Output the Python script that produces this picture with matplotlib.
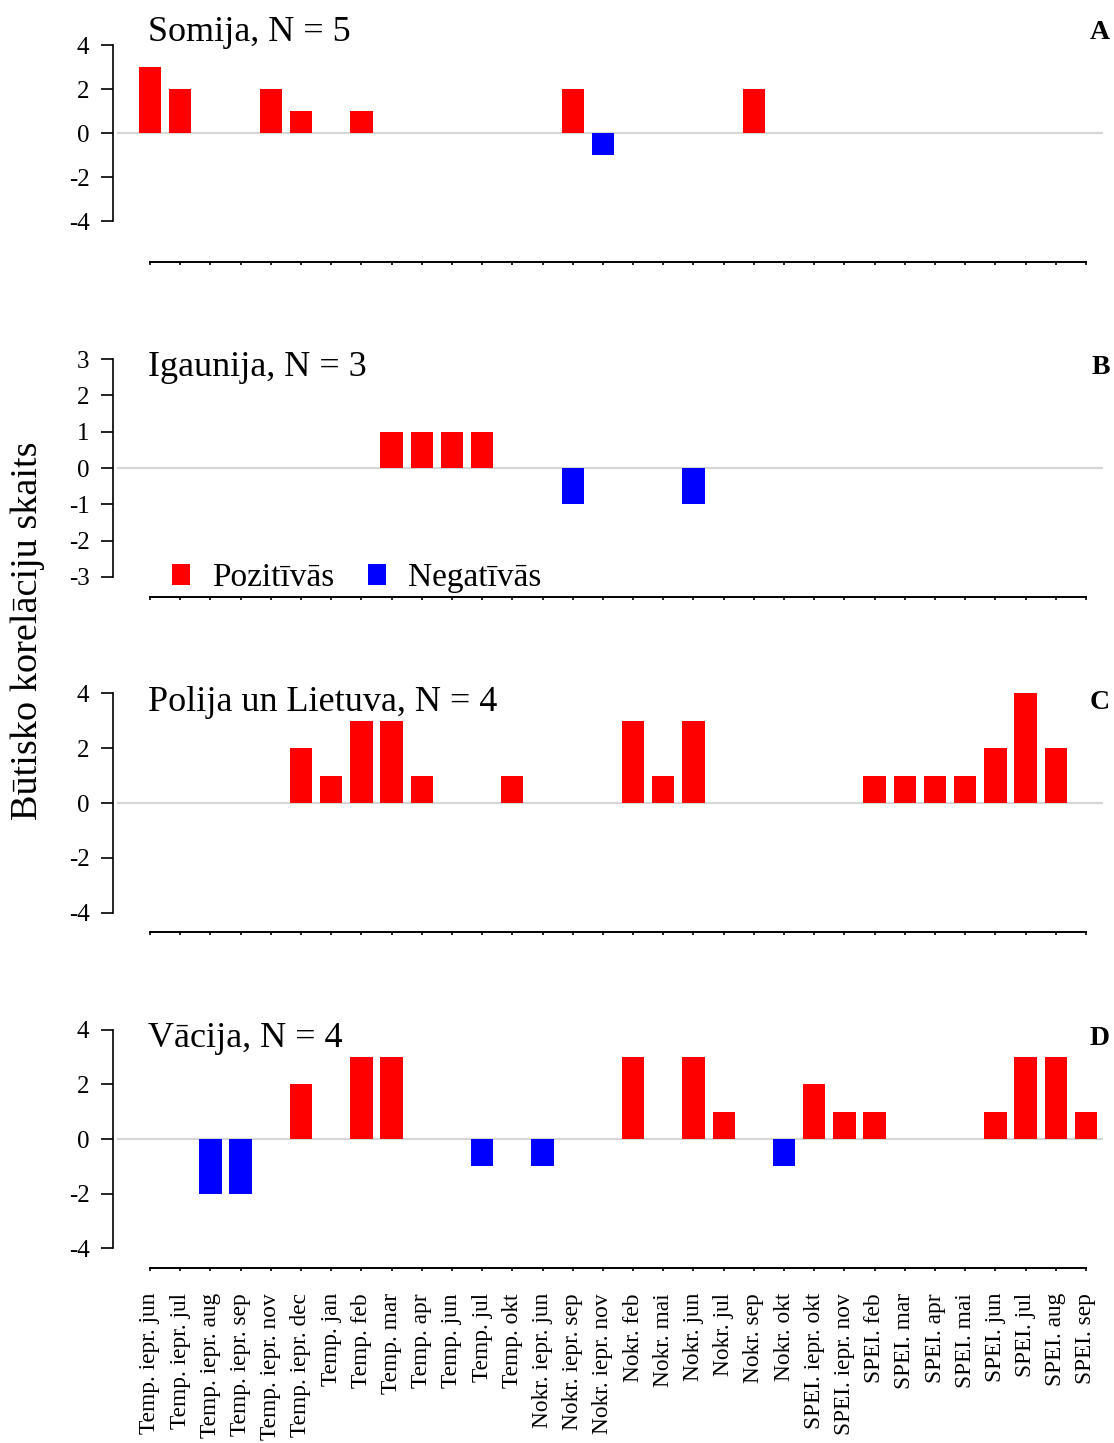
import matplotlib
matplotlib.use('Agg')
import matplotlib.pyplot as plt
from matplotlib.patches import Patch
import numpy as np

plt.rcParams['font.family'] = ['Liberation Serif', 'DejaVu Serif']
plt.rcParams['axes.unicode_minus'] = False

categories = [
    "Temp. iepr. jun", "Temp. iepr. jul", "Temp. iepr. aug", "Temp. iepr. sep",
    "Temp. iepr. nov", "Temp. iepr. dec", "Temp. jan", "Temp. feb", "Temp. mar",
    "Temp. apr", "Temp. jun", "Temp. jul", "Temp. okt", "Nokr. iepr. jun",
    "Nokr. iepr. sep", "Nokr. iepr. nov", "Nokr. feb", "Nokr. mai", "Nokr. jun",
    "Nokr. jul", "Nokr. sep", "Nokr. okt", "SPEI. iepr. okt", "SPEI. iepr. nov",
    "SPEI. feb", "SPEI. mar", "SPEI. apr", "SPEI. mai", "SPEI. jun", "SPEI. jul",
    "SPEI. aug", "SPEI. sep",
]

somija_pos = [3, 2, 0, 0, 2, 1, 0, 1, 0, 0, 0, 0, 0, 0, 2, 0, 0, 0, 0, 0, 2, 0, 0, 0, 0, 0, 0, 0, 0, 0, 0, 0]
somija_neg = [0, 0, 0, 0, 0, 0, 0, 0, 0, 0, 0, 0, 0, 0, 0, -1, 0, 0, 0, 0, 0, 0, 0, 0, 0, 0, 0, 0, 0, 0, 0, 0]
igaunija_pos = [0, 0, 0, 0, 0, 0, 0, 0, 1, 1, 1, 1, 0, 0, 0, 0, 0, 0, 0, 0, 0, 0, 0, 0, 0, 0, 0, 0, 0, 0, 0, 0]
igaunija_neg = [0, 0, 0, 0, 0, 0, 0, 0, 0, 0, 0, 0, 0, 0, -1, 0, 0, 0, -1, 0, 0, 0, 0, 0, 0, 0, 0, 0, 0, 0, 0, 0]
polija_pos = [0, 0, 0, 0, 0, 2, 1, 3, 3, 1, 0, 0, 1, 0, 0, 0, 3, 1, 3, 0, 0, 0, 0, 0, 1, 1, 1, 1, 2, 4, 2, 0]
polija_neg = [0, 0, 0, 0, 0, 0, 0, 0, 0, 0, 0, 0, 0, 0, 0, 0, 0, 0, 0, 0, 0, 0, 0, 0, 0, 0, 0, 0, 0, 0, 0, 0]
vacija_pos = [0, 0, 0, 0, 0, 2, 0, 3, 3, 0, 0, 0, 0, 0, 0, 0, 3, 0, 3, 1, 0, 0, 2, 1, 1, 0, 0, 0, 1, 3, 3, 1]
vacija_neg = [0, 0, -2, -2, 0, 0, 0, 0, 0, 0, 0, -1, 0, -1, 0, 0, 0, 0, 0, 0, 0, -1, 0, 0, 0, 0, 0, 0, 0, 0, 0, 0]

panel_titles = ["Somija, N = 5", "Igaunija, N = 3", "Polija un Lietuva, N = 4", "Vācija, N = 4"]
panel_letters = ["A", "B", "C", "D"]
pos_series = [somija_pos, igaunija_pos, polija_pos, vacija_pos]
neg_series = [somija_neg, igaunija_neg, polija_neg, vacija_neg]
y_limits = [4, 3, 4, 4]
y_steps = [2, 1, 2, 2]
legend_labels = ["Pozitīvās", "Negatīvās"]
y_label = "Būtisko korelāciju skaits"

POS_COLOR = "#ff0000"
NEG_COLOR = "#0000ff"

# layout in pixels
W, H = 1114, 1443
left_px, right_px = 113, 1103
x0_px, x_last_px = 150, 1086
n = len(categories)
dx = (x_last_px - x0_px) / (n - 1)
zero_px = [133, 468, 803, 1139]
unit_px = [22.0, 36.3, 27.4, 27.35]
axis_px = [262, 597, 932, 1268]

fig = plt.figure(figsize=(W / 100, H / 100), dpi=100)
x = np.arange(n)

for i in range(4):
    zp, up, ap = zero_px[i], unit_px[i], axis_px[i]
    ymax = y_limits[i]
    top_px = zp - ymax * up - 4
    ax = fig.add_axes([left_px / W, 1 - ap / H, (right_px - left_px) / W, (ap - top_px) / H])
    ax.set_xlim((left_px - x0_px) / dx, (right_px - x0_px) / dx)
    ax.set_ylim(-(ap - zp) / up, (zp - top_px) / up)
    ax.patch.set_alpha(0)

    ax.axhline(0, xmin=5 / (right_px - left_px), xmax=1, color="#d6d6d6", lw=1.6, zorder=0)
    ax.bar(x, pos_series[i], width=0.74, color=POS_COLOR, linewidth=0, zorder=2)
    ax.bar(x, neg_series[i], width=0.74, color=NEG_COLOR, linewidth=0, zorder=2)

    for s in ["top", "right"]:
        ax.spines[s].set_visible(False)
    ax.spines["left"].set_bounds(-ymax, ymax)
    ax.spines["bottom"].set_bounds(0, n - 1)
    ax.spines["left"].set_linewidth(1.2)
    ax.spines["bottom"].set_linewidth(1.4)

    ax.set_yticks(np.arange(-ymax, ymax + 1, y_steps[i]))
    ax.tick_params(axis="y", length=8.5, width=1.2, pad=8.5, labelsize=18)
    ax.set_xticks(x)
    if i == 3:
        ax.set_xticklabels(categories, rotation=90, fontsize=16.8)
        ax.tick_params(axis="x", length=2.5, width=1.2, pad=15.5)
    else:
        ax.tick_params(axis="x", length=2.5, width=1.2, labelbottom=False)

    fig.text(148 / W, 1 - (zp - 92) / H, panel_titles[i], fontsize=26,
             ha="left", va="baseline")
    fig.text(1110 / W, 1 - (zp - 94) / H, panel_letters[i], fontsize=20,
             fontweight="bold", ha="right", va="baseline")

    if i == 1:
        handles = [Patch(facecolor=POS_COLOR, edgecolor="none"),
                   Patch(facecolor=NEG_COLOR, edgecolor="none")]
        fig.legend(handles, legend_labels, ncol=2, frameon=False, fontsize=24,
                   loc="center left", bbox_to_anchor=(172 / W, 1 - 578 / H),
                   borderpad=0, borderaxespad=0, handlelength=0.55, handleheight=0.55,
                   handletextpad=0.65, columnspacing=1.0)

fig.text(28 / W, 1 - 631 / H, y_label, rotation=90, fontsize=27.5, ha="center", va="center")

fig.savefig("out.png", dpi=100)
